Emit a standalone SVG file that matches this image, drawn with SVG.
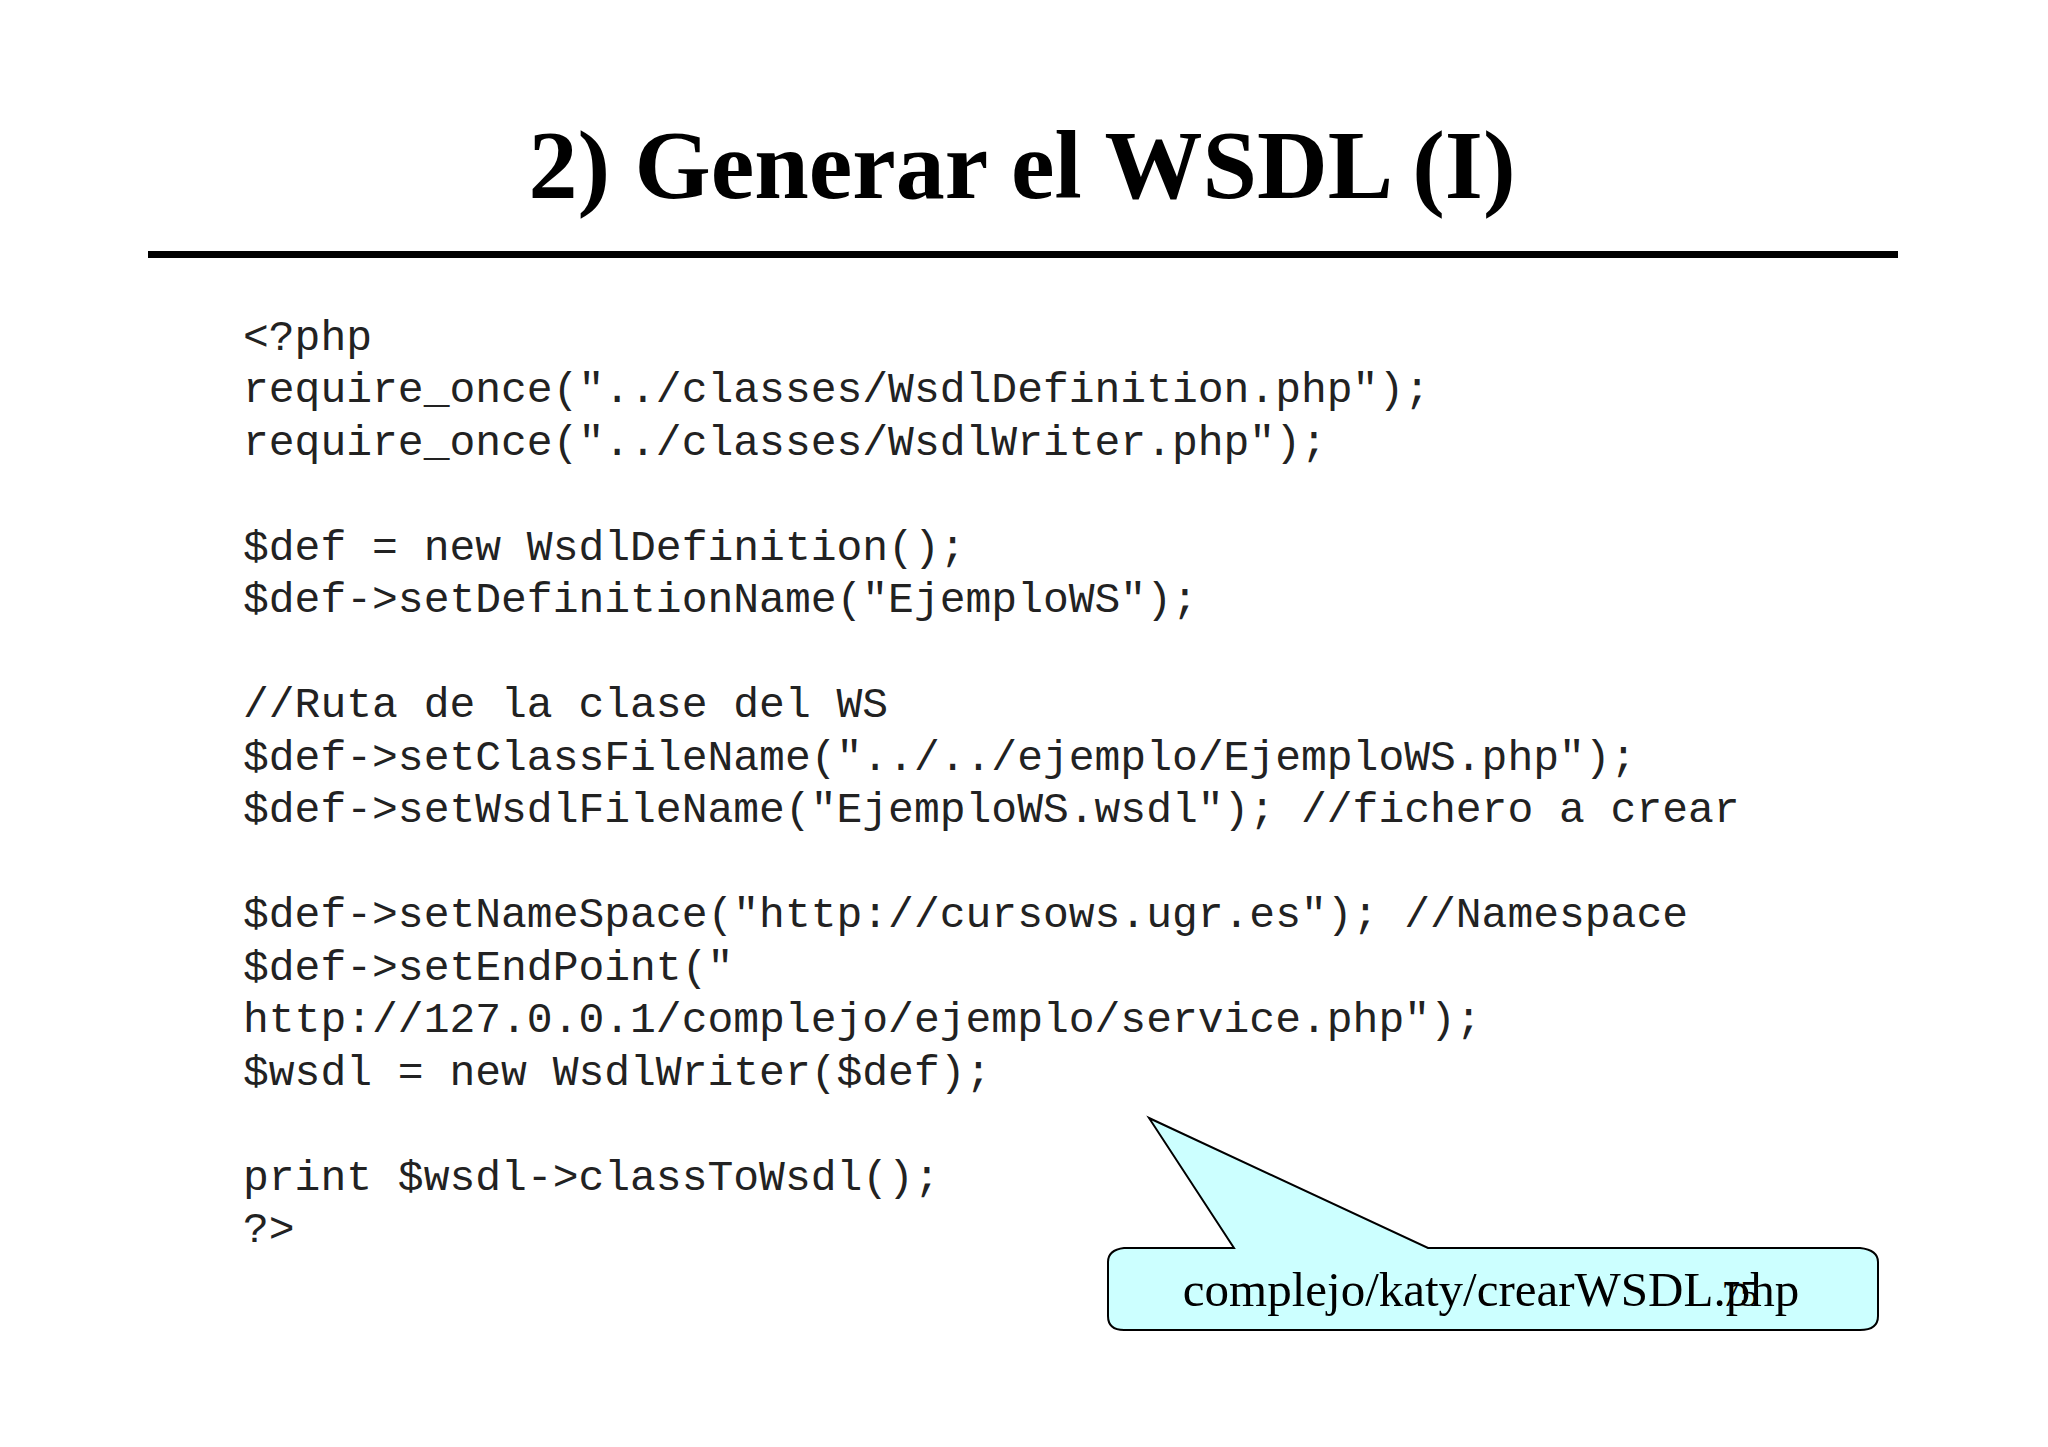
<svg xmlns="http://www.w3.org/2000/svg" width="2048" height="1447" viewBox="0 0 2048 1447">
<style>
.code{font-family:"Liberation Mono",monospace;font-size:43px;fill:#222}
.t{font-family:"Liberation Serif",serif;fill:#000}
</style>
<rect width="2048" height="1447" fill="#fff"/>
<g id="title"><text class="t" x="1022" y="198" font-size="98" font-weight="bold" text-anchor="middle">2) Generar el WSDL (I)</text>
<rect x="148" y="251" width="1750" height="7" fill="#000"/></g>
<g id="code">
<text class="code" x="243" y="350">&lt;?php</text>
<text class="code" x="243" y="402">require_once("../classes/WsdlDefinition.php");</text>
<text class="code" x="243" y="455">require_once("../classes/WsdlWriter.php");</text>
<text class="code" x="243" y="560">$def = new WsdlDefinition();</text>
<text class="code" x="243" y="612">$def-&gt;setDefinitionName("EjemploWS");</text>
<text class="code" x="243" y="717">//Ruta de la clase del WS</text>
<text class="code" x="243" y="770">$def-&gt;setClassFileName("../../ejemplo/EjemploWS.php");</text>
<text class="code" x="243" y="822">$def-&gt;setWsdlFileName("EjemploWS.wsdl"); //fichero a crear</text>
<text class="code" x="243" y="927">$def-&gt;setNameSpace("http://cursows.ugr.es"); //Namespace</text>
<text class="code" x="243" y="980">$def-&gt;setEndPoint("</text>
<text class="code" x="243" y="1032">http://127.0.0.1/complejo/ejemplo/service.php");</text>
<text class="code" x="243" y="1085">$wsdl = new WsdlWriter($def);</text>
<text class="code" x="243" y="1190">print $wsdl-&gt;classToWsdl();</text>
<text class="code" x="243" y="1242">?&gt;</text>
</g>
<g id="callout">
<path d="M1234,1248 L1149,1118 L1428,1248 L1860,1248 Q1878,1250 1878,1262 L1878,1316 Q1878,1330 1860,1330 L1124,1330 Q1108,1330 1108,1316 L1108,1262 Q1108,1250 1124,1248 Z" fill="#ccffff" stroke="#000" stroke-width="2"/>
<text class="t" x="1491" y="1306" font-size="49" text-anchor="middle">complejo/katy/crearWSDL.php</text>
<text class="t" x="1722" y="1306" font-size="36">75</text>
</g>
</svg>
